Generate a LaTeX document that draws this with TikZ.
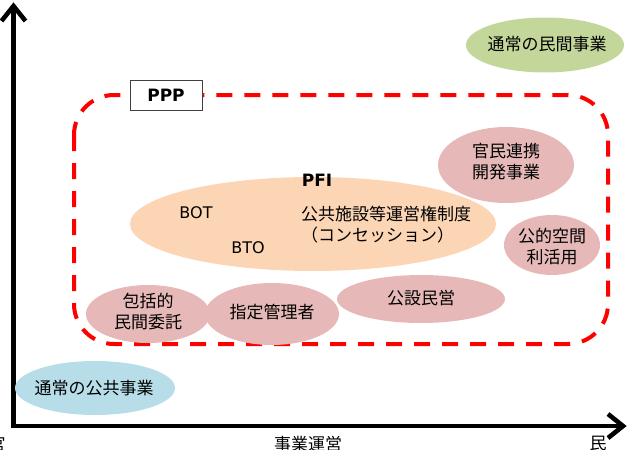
\documentclass[tikz,border=0pt]{standalone}
\usepackage{fontspec}
\setmainfont{DejaVu Sans}
\newfontfamily\jpfont{Noto Sans CJK JP}
\usetikzlibrary{shapes.geometric}
\definecolor{minkangreen}{HTML}{C4D79B}
\definecolor{kokyoblue}{HTML}{B7DEE8}
\definecolor{pfipeach}{HTML}{FCD5B5}
\definecolor{ppppink}{HTML}{E6B9B8}
\begin{document}
\begin{tikzpicture}[x=1pt,y=-1pt,
    axisline/.style={line width=4.6pt,line join=miter},
    blob/.style={ellipse,draw=none,inner sep=0pt},
    jptext/.style={font=\jpfont\fontsize{17}{21}\selectfont,align=center,inner sep=0pt},
    lattext/.style={font=\fontsize{16}{20}\selectfont,inner sep=0pt}]
    \useasboundingbox (0,0) rectangle (630,450);

    %axes
    \coordinate (ytop) at (13.5,6);
    \coordinate (origin) at (13.5,426);
    \coordinate (xend) at (623,426);
    \draw[axisline] (ytop) -- (origin) -- (xend);
    \draw[axisline] (ytop) ++(-12,15) -- (ytop) -- ++(12,15);
    \draw[axisline] (xend) ++(-15,-12) -- (xend) -- ++(-15,12);
    \node[jptext,anchor=north] (kan) at (-3,436) {官};
    \node[jptext,anchor=north] (jigyo) at (308,436) {事業運営};
    \node[jptext,anchor=north] (min) at (598,436) {民};

    %the usual projects
    \node[blob,fill=minkangreen,minimum width=158,minimum height=55] (minkan) at (545,45) {};
    \node[jptext] (minkan-t) at (547,44) {通常の民間事業};
    \node[blob,fill=kokyoblue,minimum width=160,minimum height=54] (kokyo) at (95,388) {};
    \node[jptext] (kokyo-t) at (94,388) {通常の公共事業};

    %PPP frame
    \draw[red,line width=4pt,dash pattern=on 16pt off 12pt,rounded corners=40pt] (74,95) rectangle (608,344);
    \node[draw=black!75,fill=white,line width=1pt,minimum width=72,minimum height=30,inner sep=0pt,
        font=\bfseries\fontsize{17}{20}\selectfont] (ppp) at (166,95) {PPP};

    %PFI
    \node[blob,fill=pfipeach,minimum width=366,minimum height=94] (pfi) at (313,224) {};
    \node[font=\bfseries\fontsize{17}{20}\selectfont,inner sep=0pt] (pfi-t) at (317,180) {PFI};
    \node[lattext] (bot) at (196,213) {BOT};
    \node[lattext] (bto) at (248,248) {BTO};
    \node[jptext,align=left,anchor=west] (conc) at (301,225) {公共施設等運営権制度\\（コンセッション）};

    %other PPP schemes
    \node[blob,fill=ppppink,minimum width=136,minimum height=76] (kanmin) at (506,165) {};
    \node[jptext] (kanmin-t) at (506,162) {官民連携\\開発事業};
    \node[blob,fill=ppppink,minimum width=96,minimum height=60] (koteki) at (552,245) {};
    \node[jptext] (koteki-t) at (552,247) {公的空間\\利活用};
    \node[blob,fill=ppppink,minimum width=124,minimum height=58] (hokatsu) at (148,314) {};
    \node[jptext] (hokatsu-t) at (148,312) {包括的\\民間委託};
    \node[blob,fill=ppppink,minimum width=134,minimum height=62] (shitei) at (272,314) {};
    \node[jptext] (shitei-t) at (272,312) {指定管理者};
    \node[blob,fill=ppppink,minimum width=168,minimum height=48] (kosetsu) at (421,299) {};
    \node[jptext] (kosetsu-t) at (421,298) {公設民営};

\end{tikzpicture}
\end{document}
